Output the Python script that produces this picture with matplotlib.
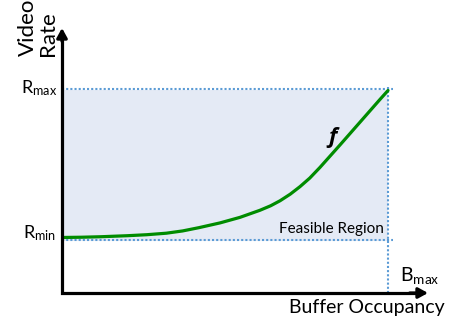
import matplotlib
matplotlib.use("Agg")
import matplotlib.pyplot as plt

plt.rcParams['font.family'] = ['Lato', 'DejaVu Sans']
plt.rcParams['mathtext.fontset'] = 'custom'
plt.rcParams['mathtext.rm'] = 'Lato'
plt.rcParams['mathtext.it'] = 'Lato:italic'

# ---- data (arbitrary units) ----
B_MAX = 1.0
R_MIN = 1.0
R_MAX = 4.0
buffer_level = [0.0, 0.06, 0.12, 0.20, 0.26, 0.32, 0.37, 0.42, 0.485, 0.546, 0.607, 0.64,
                0.669, 0.70, 0.730, 0.76, 0.791, 0.853, 0.914, 0.975, 1.0]
video_rate = [1.06, 1.065, 1.075, 1.095, 1.115, 1.145, 1.19, 1.255, 1.35, 1.46, 1.60, 1.69,
              1.79, 1.92, 2.07, 2.24, 2.45, 2.90, 3.35, 3.80, 3.98]

x_label = "Buffer Occupancy"
y_label_lines = ["Video", "Rate"]
curve_label = "f"
region_label = "Feasible Region"

# ---- figure ----
W, H = 449, 318
fig = plt.figure(figsize=(W / 100, H / 100), dpi=100)
ox, oy = 62, 293          # origin pixel (from top-left)
tipx, tipy = 428, 28      # arrow tips
ax = fig.add_axes([ox / W, (H - oy) / H, (tipx - ox) / W, (oy - tipy) / H])
ax.set_axis_off()

px_per_x = (388 - ox) / B_MAX
px_per_y = (240.5 - 89.5) / (R_MAX - R_MIN)
ax.set_xlim(0, (tipx - ox) / px_per_x)
ax.set_ylim(R_MIN - (oy - 240.5) / px_per_y, R_MAX + (89.5 - tipy) / px_per_y)

blue = '#5b9bd5'
green = '#008c00'

# feasible region
ax.fill_between([0, B_MAX], R_MIN, R_MAX, color='#e4eaf5', lw=0, zorder=1)
# dotted bounds
ext = 5 / px_per_x
ax.plot([0, B_MAX + ext], [R_MAX, R_MAX], color=blue, lw=1.5, ls=(0, (1, 1)), zorder=2)
ax.plot([0, B_MAX + ext], [R_MIN, R_MIN], color=blue, lw=1.5, ls=(0, (1, 1)), zorder=2)
ax.plot([B_MAX, B_MAX], [ax.get_ylim()[0], R_MAX + 2 / px_per_y], color=blue, lw=1.5,
        ls=(0, (1, 1)), zorder=2)

# curve
ax.plot(buffer_level, video_rate, color=green, lw=2.3, solid_capstyle='round',
        solid_joinstyle='round', zorder=3)

# axes with arrows
ax.plot([0, 0, 0.975], [0.975, 0, 0], transform=ax.transAxes, color='black', lw=2.3,
        solid_joinstyle='miter', clip_on=False, zorder=4)
for xy in [(1, 0), (0, 1)]:
    start = (0.95, 0) if xy == (1, 0) else (0, 0.95)
    ax.annotate('', xy=xy, xytext=start, xycoords='axes fraction',
                arrowprops=dict(arrowstyle='-|>,head_length=0.4,head_width=0.22', lw=2.3,
                                color='black', mutation_scale=14, shrinkA=0, shrinkB=0),
                zorder=5)

# labels
ax.annotate(r'R$_{\mathrm{max}}$', xy=(0, R_MAX), xytext=(-5, -4), textcoords='offset pixels',
            ha='right', va='baseline', fontsize=13)
ax.annotate(r'R$_{\mathrm{min}}$', xy=(0, R_MIN), xytext=(-6, 2), textcoords='offset pixels',
            ha='right', va='baseline', fontsize=13)
ax.annotate(r'B$_{\mathrm{max}}$', xy=(B_MAX, ax.get_ylim()[0]), xytext=(12, 12),
            textcoords='offset pixels', ha='left', va='baseline', fontsize=14)
ax.annotate(x_label, xy=(1, 0), xycoords='axes fraction', xytext=(17, -20),
            textcoords='offset pixels', ha='right', va='baseline', fontsize=14)
ax.annotate(region_label, xy=(B_MAX, R_MIN), xytext=(-4, 8), textcoords='offset pixels',
            ha='right', va='baseline', fontsize=11)
ax.annotate(curve_label, xy=(0.83, 3.05), xytext=(0, 0), textcoords='offset pixels',
            ha='center', va='center', fontsize=16, fontweight='bold', fontstyle='italic',
            family=['Open Sans', 'DejaVu Sans'])
ax.annotate(y_label_lines[0], xy=(0, 1), xycoords='axes fraction', xytext=(-34, -28),
            textcoords='offset pixels', rotation=90, ha='center', va='bottom', fontsize=16)
ax.annotate(y_label_lines[1], xy=(0, 1), xycoords='axes fraction', xytext=(-14, -28),
            textcoords='offset pixels', rotation=90, ha='center', va='bottom', fontsize=16)

fig.savefig('out.png', dpi=100)
